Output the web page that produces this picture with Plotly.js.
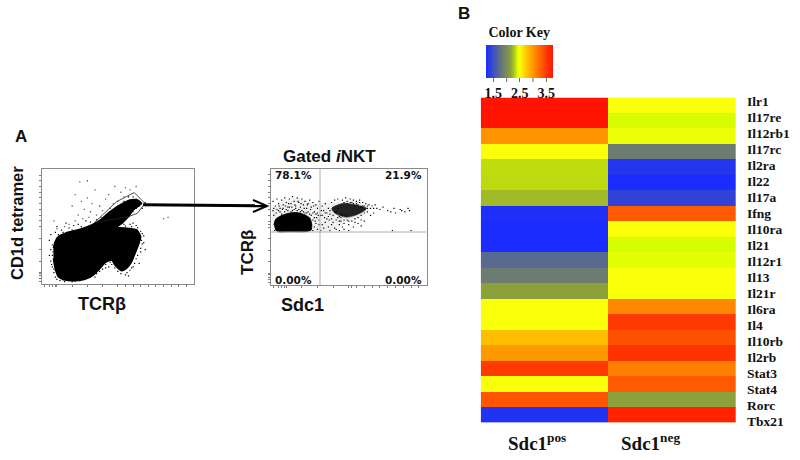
<!DOCTYPE html>
<html><head><meta charset="utf-8">
<script src="https://cdn.plot.ly/plotly-3.0.1.min.js"></script>
<style>html,body{margin:0;padding:0;background:#fff}#c{width:800px;height:460px}</style></head>
<body><div id="c"></div>
<script>
// Heatmap values
const genes=['Ilr1','Il17re','Il12rb1','Il17rc','Il2ra','Il22','Il17a','Ifng','Il10ra','Il21','Il12r1','Il13','Il21r','Il6ra','Il4','Il10rb','Il2rb','Stat3','Stat4','Rorc','Tbx21'];
const groups=['Sdc1pos','Sdc1neg'];
const sdc1Pos=[3.74,3.74,3.01,2.48,2.33,2.32,2.23,1.25,1.22,1.22,1.70,1.85,2.15,2.48,2.48,2.78,2.98,3.49,2.48,3.34,1.27];
const sdc1Neg=[2.48,2.40,2.45,1.85,1.30,1.22,1.40,3.31,2.48,2.40,2.43,2.48,2.48,3.08,3.49,3.36,3.54,3.11,3.31,2.15,3.64];
const keyTicks=[1.5,2.5,3.5];
const keyTickText=['1.5','2.5','3.5'];

// Flow plot A: saturated population outline (percent of axis)
const blobAx=[7.7,8.8,10.9,16.4,25.2,32.8,38.3,44.9,51.4,58,62.8,65.6,60.2,56.9,52.5,49.2,56.9,62.4,65,63.5,61.3,59.1,55.8,52.5,48.1,46,41.6,38.3,33.9,28.4,21.9,15.3,10.9,8.8,7.7];
const blobAy=[31.1,36.9,41.3,44.8,47.7,51.5,55.8,63.1,68.9,73.3,73.3,70.3,64.5,58.7,52.9,49.4,48.5,47.1,41.3,34,26.7,19.5,13.7,11.6,16.6,20.9,18.6,13.7,7.8,4.1,2.9,3.5,6.4,13.7,22.4];
const gateAx=[34.6,49.2,60.8,67.8,62.8,56.9,34.6];
const gateAy=[53.5,71.8,79.7,70.3,61.6,58.7,53.5];
const sparseA=[[20,68],[22,78],[26,72],[24,60],[28,65],[30,75],[32,63],[33,70],[35,82],[36,60],[38,68],[40,64],[42,74],[44,78],[45,66],[47,70],[48,85],[50,72],[52,80],[54,76],[55,84],[31,58],[27,57],[22,55],[18,52],[15,50],[39,58],[46,62],[25,89],[30,90],[58,82],[62,85],[80,57],[83,58],[8,55],[10,48]];
const edgeA=[[6,30],[7,25],[6,20],[7,15],[8,10],[9,6],[12,3],[15,2],[20,2],[25,3],[30,5],[35,6],[38,11],[42,14],[46,17],[50,11],[55,8],[58,12],[60,15],[62,22],[65,28],[66,35],[67,42],[65,46],[62,51],[58,52],[54,52],[52,58],[57,63],[62,66],[66,66],[68,71],[60,76],[5,38],[6,43],[9,45],[13,47],[18,49],[24,52],[29,55],
[7,34],[7.5,28],[6.5,17],[8,13],[10,4],[14,3.5],[18,3],[22,2.5],[28,4],[32,6],[36,9],[40,13],[44,15],[48,14],[52,9],[56,10],[59,14],[61,18],[63,25],[65,31],[65.5,38],[66,44],[63,49],[59,50],[55,50.5],[53,55],[56,60],[60,63],[64,68],[62,74],[57,76],[54,72],[50,68],[46,64],[42,60],[36,56],[32,54],[26,50],[20,47],[14,45],[11,43],[42,17],[45,19],[50,15],[37,12],[34,9],[53,53],[60,53],[67,36],[68,30],[64,18],[57,7],[9,12],[5,25],[10,50],[16,53],[21,51]];
const tickA=[2,5,7,9,10,20,30,40,50,55,60,65,70,75,80,85,90,95];

// Flow plot B: dense populations, sparse clouds and stray events
const denseBx=[2.1,3.2,6.4,11.3,17.1,22,25.2,26.3,25.9,22,12.4,4.9,2.8];
const denseBy=[51.7,56.6,59.4,61.7,62.3,60.3,57.4,51.7,47.4,46,46,46,48];
const lobeBx=[39.1,46.6,55.1,61.5,57.3,48.7,41.2,39.1];
const lobeBy=[66,70.3,68.9,66,61.7,58.3,61.7,66];
const haloBx=[1,8,18,30,42,52,60,64,58,50,44,36,1,1];
const haloBy=[66,73,75,70,71,73,70,66,59,55,50,46,46,66];
const strayB=[[1.5,72],[3,68],[4,74],[5,70],[6,66],[7,73],[8,69],[9,75],[10,71],[11,67],[12,74],[13,70],[14,76],[15,72],[16,68],[17,75],[18,71],[19,67],[20,74],[21,69],[22,72],[23,66],[24,70],[25,73],[26,67],[27,71],[28,63],[29,69],[30,66],[31,72],[32,60],[33,68],[34,64],[35,70],[36,57],[37,66],[38,61],[39,71],[40,54],[41,73],[42,56],[43,74],[44,52],[45,55],[46,73],[47,53],[48,75],[49,56],[50,52],[51,74],[52,55],[53,73],[54,57],[55,72],[56,58],[57,73],[58,60],[59,71],[60,62],[61,70],[62,63],[63,69],[64,66],[65,68],[66,66],[67,69],[68,66],[70,65],[72,67],
[75,64],[77,63],[79,66],[80,62],[83,65],[84,64],[86,63],[88,66],[89,64],
[2,60],[1.5,64],[2.5,47],[27,47],[28,50],[29,53],[30,48],[31,56],[32,47],[33,52],[34,49],[35,54],[37,50],[38,47],[39,52],[41,49],[42,48],[44,47],[46,50],[47,48],[50,47],[53,50],[56,53],[58,51],[60,55],[64,60],[66,62],[90,47],[78,47],
[4,65],[6,63],[8,66],[10,65],[12,67],[14,64],[16,66],[18,65],[20,64],[22,62],[24,63],[26,60],[27,56],[28,58],[29,61],[30,62],[31,52],[33,60],[35,62],[37,59],[38,64],[40,60],[42,63],[43,66],[44,59],[45,61],[47,71],[49,72],[51,71],[53,70],[55,70],[57,71],[59,68],[60,65],[62,66],[58,56],[54,54],[50,55],[47,56],[44,55],
[2,66],[3.5,62],[5,64],[5.5,68],[7,61],[7.5,65],[9,63],[9.5,68],[11,64],[11.5,70],[13,63],[13.5,67],[15,65],[15.5,69],[17,64],[17.5,72],[19,63],[19.5,70],[21,63],[21.5,66],[23,62],[23.5,69],[25,61],[25.5,65],[27,62],[27.5,68],[28.5,55],[29.5,58],[30.5,60],[32.5,64],[34.5,58],[36,62],[37.5,56],[39,57],[41,63],[43,58],[45,58],[46,60],[48,60],[49,70],[52,71],[54,68],[56,69],[58,67],[60,68],[62,68]];
const tickB=[2,5,7,9,10,20,30,40,50,52,55,60,65,70,75,80,85,90,95];

const W=800,H=460;
const px=x=>x/W, py=y=>1-y/H;
const sans='"Liberation Sans",Arial,sans-serif';
const serif='"Liberation Serif","DejaVu Serif",serif';

const colorscale=[[0,'rgb(26,44,255)'],[0.25,'rgb(108,124,112)'],[0.37,'rgb(140,160,60)'],[0.44,'rgb(190,220,15)'],[0.47,'rgb(216,255,0)'],[0.5,'rgb(250,255,10)'],[0.62,'rgb(255,190,0)'],[0.75,'rgb(255,128,0)'],[0.87,'rgb(255,70,0)'],[1,'rgb(255,20,0)']];

const data=[
 {type:'scatter',mode:'markers',x:sparseA.map(p=>p[0]),y:sparseA.map(p=>p[1]),marker:{color:'#666',size:1.3,symbol:'square'},xaxis:'x',yaxis:'y',showlegend:false},
 {type:'scatter',mode:'lines',x:blobAx,y:blobAy,fill:'toself',fillcolor:'#000',line:{color:'#000',width:1.5,shape:'spline',smoothing:0.6},xaxis:'x',yaxis:'y',hoverinfo:'skip',showlegend:false},
 {type:'scatter',mode:'markers',x:edgeA.map(p=>p[0]),y:edgeA.map(p=>p[1]),marker:{color:'#000',size:1.2,symbol:'square'},xaxis:'x',yaxis:'y',showlegend:false},
 {type:'scatter',mode:'lines',x:gateAx,y:gateAy,line:{color:'#222',width:0.8},xaxis:'x',yaxis:'y',showlegend:false},
 {type:'scatter',mode:'lines',x:haloBx,y:haloBy,fill:'toself',fillcolor:'rgba(0,0,0,0.06)',line:{width:0},xaxis:'x2',yaxis:'y2',hoverinfo:'skip',showlegend:false},
 {type:'scatter',mode:'lines',x:denseBx,y:denseBy,fill:'toself',fillcolor:'#000',line:{color:'#000',width:1,shape:'spline',smoothing:0.6},xaxis:'x2',yaxis:'y2',hoverinfo:'skip',showlegend:false},
 {type:'scatter',mode:'lines',x:lobeBx,y:lobeBy,fill:'toself',fillcolor:'#222',line:{color:'#222',width:0.5,shape:'spline',smoothing:0.8},xaxis:'x2',yaxis:'y2',hoverinfo:'skip',showlegend:false},
 {type:'scatter',mode:'markers',x:strayB.map(p=>p[0]),y:strayB.map(p=>p[1]),marker:{color:'#000',size:1.2,symbol:'square'},xaxis:'x2',yaxis:'y2',showlegend:false},
 {type:'heatmap',x:groups,y:genes,z:genes.map((g,i)=>[sdc1Pos[i],sdc1Neg[i]]),zmin:1.22,zmax:3.74,colorscale:colorscale,xaxis:'x3',yaxis:'y3',
  colorbar:{orientation:'h',lenmode:'pixels',len:67,thickness:33,thicknessmode:'pixels',x:px(485.7),xanchor:'left',y:py(30),yanchor:'top',xpad:0,ypad:0,
   outlinewidth:0,tickmode:'array',tickvals:keyTicks,ticktext:keyTickText,ticks:'outside',ticklen:4,tickcolor:'#666',tickfont:{family:serif,size:14,color:'#111',weight:'bold'},
   title:{text:'<b>Color Key</b>',side:'top',font:{family:serif,size:14,color:'#111'}}}},
 {type:'scatter',mode:'markers',x:genes.map(()=>0),y:genes,marker:{opacity:0,size:1},xaxis:'x4',yaxis:'y4',hoverinfo:'skip',showlegend:false}
];

const flowAxis=(dom,anchor,vals)=>({domain:dom,anchor:anchor,range:[0,100],tickmode:'array',tickvals:vals,showticklabels:false,ticks:'outside',ticklen:2,tickcolor:'#444',tickwidth:0.7,showgrid:false,zeroline:false,showline:true,linecolor:'#8a8a8a',linewidth:1,mirror:true});

const qLine=(a)=>Object.assign({type:'line',line:{color:'#b0b0b0',width:1}},a);
const pct=(x,y,t)=>({x:x,y:y,xref:'x2',yref:'y2',xanchor:'center',yanchor:'middle',text:'<b>'+t+'</b>',showarrow:false,font:{family:'"DejaVu Sans",sans-serif',size:10.5,color:'#111'}});
const lab=(x,y,t,f,rot)=>({x:px(x),y:py(y),xref:'paper',yref:'paper',xanchor:'center',yanchor:'middle',text:t,showarrow:false,font:f,textangle:rot||0});
const key=s=>({family:sans,size:s,color:'#111'});

const layout={width:W,height:H,margin:{l:0,r:0,t:0,b:0},paper_bgcolor:'#fff',plot_bgcolor:'rgba(0,0,0,0)',showlegend:false,
 xaxis:flowAxis([px(41.7),px(194)],'y',tickA),
 yaxis:flowAxis([py(284),py(169.3)],'x',tickA),
 xaxis2:flowAxis([px(270.7),px(426.7)],'y2',tickB),
 yaxis2:flowAxis([py(285.3),py(168.7)],'x2',tickB),
 xaxis3:{domain:[px(480.7),px(736)],anchor:'y3',type:'category',range:[-0.5,1.5],showticklabels:false,ticks:'',showgrid:false,zeroline:false,showline:false},
 yaxis3:{domain:[py(422.7),py(97.5)],anchor:'x3',type:'category',range:[20.5,-0.5],showticklabels:false,ticks:'',showgrid:false,zeroline:false,showline:false},
 xaxis4:{domain:[px(480.7),px(736)],anchor:'y4',visible:false,range:[-1,1]},
 yaxis4:{domain:[py(429),py(93)],anchor:'x4',side:'right',type:'category',range:[20.5,-0.5],tickmode:'array',tickvals:genes,ticktext:genes,ticks:'',showgrid:false,zeroline:false,showline:false,ticklabelstandoff:10,tickfont:{family:serif,size:13.5,color:'#111',weight:'bold'}},
 shapes:[
  qLine({xref:'x2',yref:'y2',x0:31.6,x1:31.6,y0:0,y1:100}),
  qLine({xref:'x2',yref:'y2',x0:0,x1:100,y0:45.7,y1:45.7}),
  {type:'line',xref:'paper',yref:'paper',x0:px(143),x1:px(266),y0:py(204.8),y1:py(205.8),line:{color:'#000',width:3}},
  {type:'path',xref:'paper',yref:'paper',path:`M ${px(253)} ${py(200)} L ${px(267)} ${py(206)} L ${px(253)} ${py(212)}`,line:{color:'#000',width:2}},
  {type:'line',xref:'paper',yref:'paper',x0:px(506.7),x1:px(506.7),y0:py(78),y1:py(82),line:{color:'#666',width:1}},
  {type:'line',xref:'paper',yref:'paper',x0:px(533),x1:px(533),y0:py(78),y1:py(82),line:{color:'#666',width:1}}
 ],
 annotations:[
  lab(21,137,'<b>A</b>',key(17)),
  lab(463.7,13.6,'<b>B</b>',key(17)),
  lab(329,156,'<b>Gated <i>i</i>NKT</b>',key(17)),
  lab(17,223,'<b>CD1d tetramer</b>',key(16.5),-90),
  lab(102.5,304,'<b>TCRβ</b>',key(18)),
  lab(247,253,'<b>TCRβ</b>',key(17),-90),
  lab(302,305,'<b>Sdc1</b>',key(18)),
  pct(14.5,94.6,'78.1%'),pct(85.4,94.6,'21.9%'),pct(14.5,4.6,'0.00%'),pct(85.4,4.6,'0.00%'),
  lab(537,442,'<b>Sdc1<sup>pos</sup></b>',{family:serif,size:19,color:'#111'}),
  lab(650,442,'<b>Sdc1<sup>neg</sup></b>',{family:serif,size:19,color:'#111'})
 ]
};
Plotly.newPlot('c',data,layout,{displayModeBar:false,staticPlot:true});
</script></body></html>
